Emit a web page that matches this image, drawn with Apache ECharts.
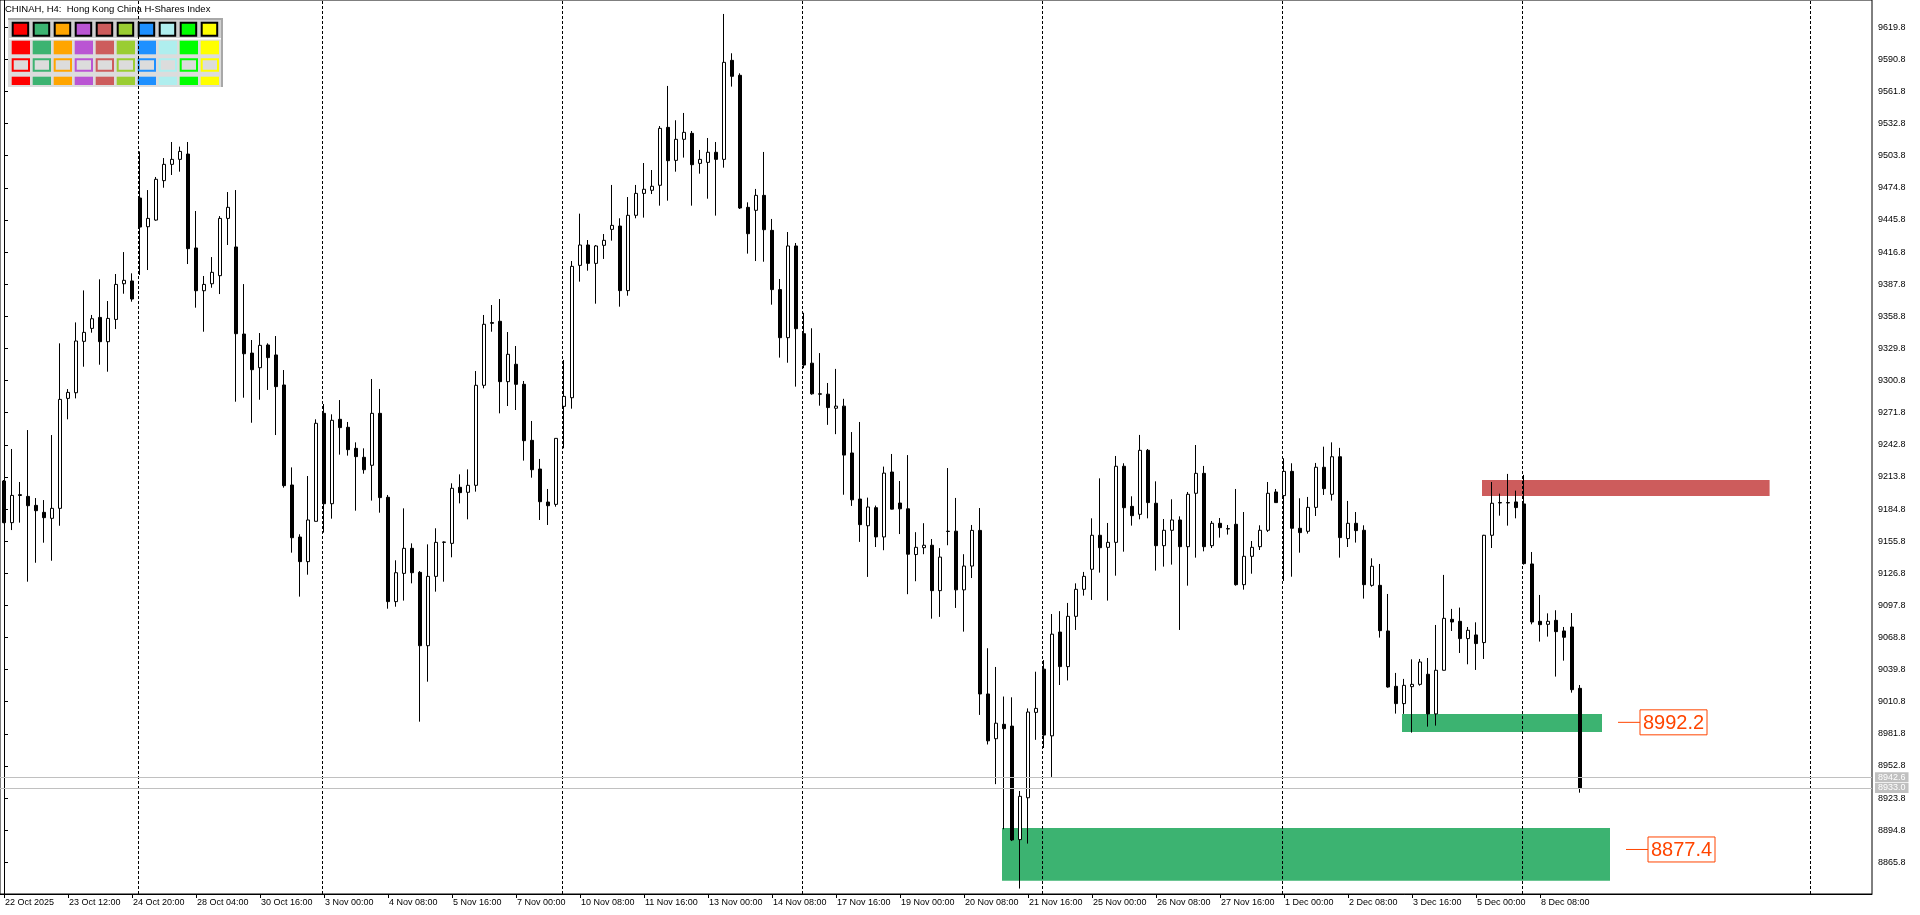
<!DOCTYPE html>
<html><head><meta charset="utf-8">
<script src="https://cdn.jsdelivr.net/npm/echarts@6/dist/echarts.min.js"></script>
<style>html,body{margin:0;padding:0;background:#fff}#c{width:1920px;height:915px}</style>
</head><body><div id="c"></div>
<script>
// ---- data (H4 bars, index 0 = first bar) ----
const opens = [9210.1,9172.5,9197.0,9196.2,9188.1,9181.8,9176.4,9185.4,9284.7,9289.8,9336.2,9347.9,9357.8,9335.9,9356.0,9388.2,9390.7,9465.6,9439.7,9445.7,9481.3,9496.0,9500.5,9505.3,9420.5,9381.9,9388.2,9395.5,9447.2,9421.4,9342.8,9325.6,9312.4,9332.9,9323.9,9296.8,9206.5,9159.5,9137.3,9173.7,9271.2,9189.6,9265.8,9258.6,9239.6,9231.5,9224.3,9271.2,9195.4,9101.2,9126.7,9149.3,9127.6,9061.4,9124.0,9154.7,9153.8,9204.4,9199.9,9206.2,9296.5,9353.1,9354.3,9299.8,9315.5,9297.4,9246.8,9220.9,9191.1,9189.0,9277.5,9285.3,9404.8,9423.2,9406.6,9422.9,9437.3,9440.3,9382.0,9450.0,9469.8,9472.6,9477.1,9529.4,9499.6,9518.6,9524.0,9496.9,9497.8,9506.9,9500.5,9589.9,9576.4,9457.2,9454.5,9468.0,9436.4,9382.9,9339.5,9422.3,9343.1,9316.5,9288.8,9288.5,9275.8,9277.7,9235.4,9193.8,9169.7,9186.0,9159.6,9218.2,9190.2,9185.0,9143.7,9149.9,9152.1,9111.1,9164.5,9164.8,9111.8,9133.3,9165.5,9017.8,8977.4,8990.4,8988.8,8886.3,8924.1,9001.2,9040.2,8980.0,9073.7,9042.5,9087.9,9112.3,9130.4,9161.1,9150.2,9154.7,9223.4,9187.2,9180.0,9237.8,9190.0,9151.7,9165.6,9174.9,9150.8,9199.0,9217.0,9151.7,9171.9,9167.1,9171.0,9116.5,9142.1,9150.8,9165.6,9200.2,9196.9,9218.8,9167.4,9164.7,9186.3,9222.5,9198.1,9232.0,9158.1,9171.9,9165.6,9115.9,9115.9,9074.7,9024.7,9009.1,9024.4,9026.5,9035.6,8999.8,9039.2,9085.2,9083.4,9067.8,9071.1,9064.2,9161.1,9190.6,9190.6,9191.2,9189.4,9135.2,9083.4,9080.7,9084.3,9074.7,9078.3,9022.9];
const highs = [9211.0,9239.0,9209.2,9256.1,9194.7,9192.9,9251.6,9334.4,9293.1,9353.3,9382.2,9360.0,9392.2,9372.6,9397.0,9416.8,9397.6,9507.7,9472.8,9484.6,9501.7,9516.2,9512.0,9516.2,9453.9,9395.2,9412.3,9449.3,9471.0,9472.8,9387.9,9337.4,9343.7,9334.4,9341.0,9310.3,9222.4,9162.0,9214.6,9265.8,9279.6,9270.3,9283.2,9263.4,9245.0,9239.6,9302.2,9293.2,9197.5,9138.5,9185.4,9153.8,9128.8,9152.9,9167.4,9155.5,9208.0,9216.1,9220.6,9309.4,9360.0,9369.0,9374.4,9344.6,9332.0,9300.4,9264.3,9230.0,9202.9,9248.6,9319.4,9408.7,9451.5,9427.7,9423.2,9433.1,9477.4,9447.3,9466.5,9477.4,9497.2,9490.9,9530.6,9566.8,9535.8,9542.4,9526.1,9509.0,9519.8,9516.2,9631.8,9596.3,9578.2,9461.7,9473.8,9507.2,9446.7,9392.5,9434.9,9425.0,9362.0,9348.0,9325.6,9298.6,9311.3,9284.3,9254.3,9263.4,9195.1,9187.9,9223.1,9234.5,9210.1,9233.5,9163.9,9172.0,9157.7,9149.5,9221.8,9194.8,9144.0,9170.4,9185.7,9059.1,9042.2,9015.5,9014.8,8930.2,9004.8,9037.9,9048.4,9090.0,9092.6,9100.0,9117.7,9128.0,9176.4,9212.5,9172.2,9232.7,9226.1,9196.3,9251.7,9239.0,9209.8,9175.8,9193.6,9178.2,9200.2,9242.6,9223.7,9174.0,9176.7,9170.4,9202.9,9182.1,9155.9,9170.1,9209.2,9202.9,9230.6,9226.1,9194.5,9195.7,9226.4,9241.1,9245.0,9240.0,9192.1,9182.1,9170.1,9140.3,9135.2,9108.1,9036.8,9031.4,9049.1,9049.4,9050.3,9080.1,9125.3,9094.6,9095.8,9078.3,9082.5,9161.5,9209.2,9198.7,9216.5,9201.4,9215.6,9146.0,9107.2,9090.6,9093.4,9078.3,9090.9,9025.9];
const lows = [9172.0,9165.8,9172.5,9119.2,9136.3,9154.4,9138.1,9169.7,9265.8,9284.7,9313.3,9344.0,9315.1,9308.8,9347.3,9379.2,9372.0,9396.1,9400.6,9445.1,9474.9,9486.4,9489.4,9406.0,9366.6,9344.9,9384.6,9378.9,9423.2,9281.7,9285.3,9262.7,9283.5,9292.3,9251.6,9204.1,9145.4,9105.7,9125.5,9173.7,9163.5,9176.1,9233.9,9233.0,9183.3,9216.7,9192.4,9181.5,9094.8,9096.6,9102.1,9117.7,8992.8,9028.9,9110.2,9119.2,9141.2,9189.9,9175.5,9200.5,9293.8,9344.9,9271.2,9277.8,9274.2,9228.5,9213.1,9174.9,9170.4,9186.9,9239.6,9275.4,9390.1,9400.0,9370.2,9410.6,9427.1,9367.5,9377.4,9447.3,9447.9,9469.2,9458.7,9463.2,9489.4,9502.1,9458.7,9487.6,9465.0,9449.7,9493.0,9566.2,9455.7,9415.4,9408.7,9408.1,9369.3,9321.5,9316.9,9295.3,9312.0,9288.0,9278.1,9260.8,9252.4,9197.7,9187.6,9155.1,9123.5,9150.5,9147.6,9184.5,9162.2,9107.9,9119.6,9144.0,9085.8,9087.4,9152.1,9095.5,9074.1,9122.5,8998.9,8972.2,8936.4,8895.7,8885.0,8842.1,8882.7,8976.4,8969.0,8942.9,9025.9,9030.0,9075.6,9106.6,9102.7,9127.4,9102.1,9124.6,9146.3,9169.8,9175.5,9176.4,9129.2,9132.8,9134.6,9075.6,9115.6,9140.9,9146.6,9149.6,9159.0,9161.7,9115.6,9112.0,9126.4,9147.8,9164.1,9190.6,9119.8,9123.7,9145.4,9162.6,9178.5,9197.5,9192.4,9140.9,9150.5,9154.5,9103.9,9114.7,9068.7,9023.5,9000.1,8999.8,8982.9,9025.3,8988.3,8989.2,9039.0,9074.7,9054.8,9044.6,9039.5,9049.4,9149.6,9178.8,9169.8,9176.4,9134.6,9080.7,9065.1,9069.6,9033.5,9047.9,9019.0,8928.7];
const closes = [9172.5,9197.1,9197.8,9187.8,9183.3,9177.0,9185.4,9283.8,9290.1,9336.5,9344.3,9356.6,9335.9,9356.9,9387.6,9391.3,9374.4,9439.4,9447.2,9482.5,9496.0,9500.5,9507.7,9419.9,9381.9,9387.6,9398.5,9447.2,9457.2,9343.1,9325.0,9310.6,9332.6,9321.5,9295.3,9205.9,9158.9,9137.3,9174.9,9262.2,9189.6,9264.9,9258.3,9238.4,9232.1,9220.3,9271.2,9195.1,9101.2,9127.3,9149.3,9127.3,9061.4,9124.0,9154.7,9155.0,9203.5,9199.6,9206.2,9296.5,9351.6,9352.5,9299.8,9324.5,9297.4,9246.5,9220.3,9191.4,9187.8,9248.6,9286.5,9403.9,9423.2,9406.6,9422.3,9427.4,9440.9,9382.0,9450.0,9469.8,9473.5,9476.2,9528.5,9499.3,9518.6,9524.9,9495.7,9500.5,9506.9,9500.5,9588.1,9575.5,9456.6,9433.4,9468.0,9437.0,9382.9,9339.5,9422.3,9347.6,9314.8,9288.8,9288.5,9276.4,9277.7,9233.5,9193.1,9170.7,9186.6,9159.6,9217.2,9184.7,9185.0,9144.0,9150.2,9152.1,9111.1,9141.4,9164.8,9111.8,9133.3,9165.5,9017.8,8975.5,8991.4,8986.5,8886.0,8925.4,9001.5,9004.8,8980.7,9071.8,9042.5,9087.9,9112.3,9124.0,9161.1,9149.9,9154.7,9223.4,9186.0,9178.8,9237.8,9190.6,9151.7,9165.6,9174.9,9150.8,9198.1,9217.0,9150.8,9171.9,9168.0,9166.8,9116.5,9142.1,9150.2,9165.6,9199.0,9190.6,9218.8,9167.4,9163.5,9186.3,9222.5,9203.2,9232.0,9159.0,9171.9,9165.3,9116.5,9133.1,9075.0,9024.1,9009.1,9025.6,9026.5,9046.7,8999.8,9039.2,9086.1,9082.8,9067.8,9075.3,9063.3,9161.1,9190.0,9190.3,9190.3,9186.1,9135.5,9082.8,9080.4,9083.4,9074.1,9069.0,9021.7,8933.0];

// x-axis: one tick label every 8 bars
const tickLabels = ['22 Oct 2025','23 Oct 12:00','24 Oct 20:00','28 Oct 04:00','30 Oct 16:00','3 Nov 00:00','4 Nov 08:00','5 Nov 16:00','7 Nov 00:00','10 Nov 08:00','11 Nov 16:00','13 Nov 00:00','14 Nov 08:00','17 Nov 16:00','19 Nov 00:00','20 Nov 08:00','21 Nov 16:00','25 Nov 00:00','26 Nov 08:00','27 Nov 16:00','1 Dec 00:00','2 Dec 08:00','3 Dec 16:00','5 Dec 00:00','8 Dec 08:00'];
const totalSlots = 234; // bars + empty chart shift on the right
const yTicks = [8865.8,8894.8,8923.8,8952.8,8981.8,9010.8,9039.8,9068.8,9097.8,9126.8,9155.8,9184.8,9213.8,9242.8,9271.8,9300.8,9329.8,9358.8,9387.8,9416.8,9445.8,9474.8,9503.8,9532.8,9561.8,9590.8,9619.8];
const yMin = 8837.2, yMax = 9644.4;
// vertical period separators (bar position)
const separators = [16.8,39.8,69.8,99.8,129.8,159.8,189.8,225.8];
// zones: [barFrom, barTo, priceTop, priceBottom]
const supplyZones = [[184.75,220.7,9211.0,9196.6]];
const demandZones = [[124.75,200.75,8896.8,8849.2],[174.75,199.75,8999.8,8983.5]];
// price labels: [bar, price]
const priceLabels = [[201.75,8992.2],[202.75,8877.4]];
const bidAsk = [8942.6, 8933.0];
const swatchColors = ['#ff0000','#3cb371','#ffa500','#ba55d3','#cd5c5c','#9acd32','#1e90ff','#afeeee','#00ff00','#ffff00'];
const title = 'CHINAH, H4:  Hong Kong China H-Shares Index';

// ---- build ----
const cats = Array.from({length: totalSlots}, (_, i) => String(i));
const candles = opens.map((o, i) => [o, closes[i], lows[i], highs[i]]);
const FONT = 'Liberation Sans';
const tickShow = (i) => i % 8 === 0 && i / 8 < tickLabels.length;

const graphic = [];
graphic.push({type:'text', left:5, top:4, z:1, style:{text:title, font:'9.5px ' + FONT, fill:'#000'}});
graphic.push({type:'rect', z:1, shape:{x:8,y:18,width:215,height:69}, style:{fill:'#dcdcdc'}});
graphic.push({type:'rect', z:1, shape:{x:8,y:18,width:215,height:2}, style:{fill:'#a8a8a8'}});
graphic.push({type:'rect', z:1, shape:{x:221,y:18,width:2,height:69}, style:{fill:'#a8a8a8'}});
graphic.push({type:'rect', z:1, shape:{x:9,y:20,width:212,height:18}, style:{fill:'#d0d0d0'}});
graphic.push({type:'rect', z:1, shape:{x:9,y:38,width:212,height:1.5}, style:{fill:'#ffffff'}});
swatchColors.forEach((c, k) => {
  const x = 11.7 + 21 * k;
  graphic.push({type:'rect', z:1, shape:{x:x+1,y:22.7,width:15.5,height:13}, style:{fill:c, stroke:'#000', lineWidth:2}});
  graphic.push({type:'rect', z:1, shape:{x:x,y:40.7,width:18.3,height:13.6}, style:{fill:c}});
  graphic.push({type:'rect', z:1, shape:{x:x+1,y:59.3,width:16.3,height:11.4}, style:{fill:'#dcdcdc', stroke:c, lineWidth:2}});
  graphic.push({type:'rect', z:1, shape:{x:x,y:76.7,width:18.3,height:8.3}, style:{fill:c}});
});

const zoneArea = (z, color) => [{coord:[z[0], z[2]], itemStyle:{color}}, {coord:[z[1], z[3]]}];

const option = {
  animation: false,
  backgroundColor: '#fff',
  textStyle: {fontFamily: FONT},
  grid: {left:0, top:0, width:1872, height:894, show:true, borderColor:'#000', borderWidth:1, backgroundColor:'#fff'},
  xAxis: [{
    type:'category', data:cats, boundaryGap:true,
    axisLine:{show:true, lineStyle:{color:'#000', width:1}},
    axisTick:{show:true, interval:tickShow, alignWithLabel:true, length:4, lineStyle:{color:'#000'}},
    axisLabel:{interval:tickShow, formatter:(v, i) => tickLabels[i/8] || '', align:'left', margin:4, color:'#000', fontSize:9, fontFamily:FONT, padding:[0,0,0,1]},
    splitLine:{show:false}
  },{
    type:'value', min:-0.5, max:totalSlots-0.5, show:false
  }],
  yAxis: [{
    type:'value', position:'right', min:yMin, max:yMax, scale:true,
    axisLine:{show:true, lineStyle:{color:'#000', width:1}},
    axisTick:{show:true, length:4, customValues:yTicks, lineStyle:{color:'#000'}},
    axisLabel:{customValues:yTicks, formatter:(v) => v.toFixed(1), margin:6, color:'#000', fontSize:9, fontFamily:FONT},
    splitLine:{show:false}
  }],
  graphic: graphic,
  series: [
    { // zones (behind everything)
      type:'line', xAxisIndex:1, data:[], z:1, silent:true,
      markArea:{silent:true, data: supplyZones.map(z => zoneArea(z, '#cd5c5c')).concat(demandZones.map(z => zoneArea(z, '#3cb371')))}
    },
    { // period separators
      type:'line', xAxisIndex:1, data:[], z:2, silent:true,
      markLine:{silent:true, symbol:['none','none'], label:{show:false},
        lineStyle:{color:'#000', width:1, type:[3,2]},
        data: separators.map(s => ({xAxis:s}))}
    },
    {
      type:'candlestick', xAxisIndex:0, data:candles, z:3, barWidth:4,
      itemStyle:{color:'#ffffff', color0:'#000000', borderColor:'#000000', borderColor0:'#000000', borderColorDoji:'#000000', borderWidth:1},
      markLine:{silent:true, symbol:['none','none'], precision:1,
        lineStyle:{color:'#c0c0c0', width:1, type:'solid'},
        label:{show:true, position:'end', distance:3, formatter:(p) => p.value.toFixed(1), color:'#fff', backgroundColor:'#c0c0c0', padding:[1,3,0,3], fontSize:9, fontFamily:FONT},
        data: bidAsk.map(v => ({yAxis:v}))}
    },
    {
      type:'custom', xAxisIndex:1, data:priceLabels, z:4, silent:true, clip:false,
      renderItem:(params, api) => {
        const p = api.coord([api.value(0), api.value(1)]);
        const txt = api.value(1).toFixed(1);
        const lead = 22, bw = 67, bh = 25;
        return {type:'group', children:[
          {type:'line', shape:{x1:p[0], y1:p[1], x2:p[0]+lead, y2:p[1]}, style:{stroke:'#ff4500', lineWidth:1}},
          {type:'rect', shape:{x:p[0]+lead, y:p[1]-bh/2, width:bw, height:bh}, style:{fill:'#fff', stroke:'#ff4500', lineWidth:1}},
          {type:'text', style:{x:p[0]+lead+bw/2, y:p[1]+1, text:txt, align:'center', verticalAlign:'middle', fill:'#ff4500', font:'20px ' + FONT}}
        ]};
      }
    }
  ]
};
const chart = echarts.init(document.getElementById('c'), null, {renderer:'canvas'});
chart.setOption(option);
</script>
</body></html>
